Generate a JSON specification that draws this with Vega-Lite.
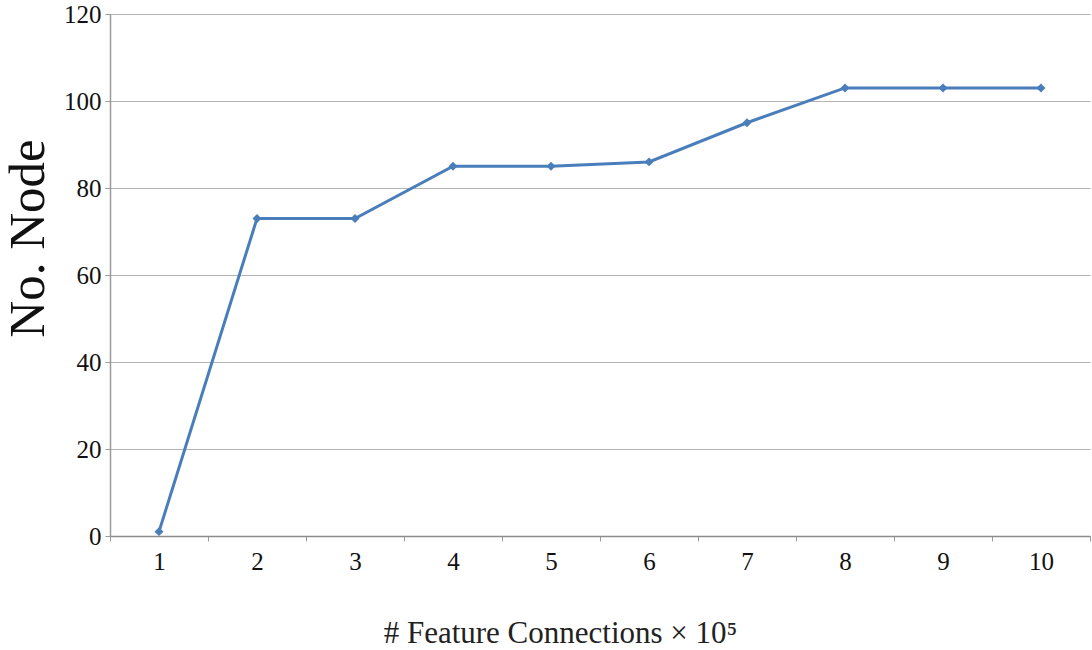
{
  "$schema": "https://vega.github.io/schema/vega-lite/v6.json",
  "width": 980,
  "height": 522,
  "autosize": {"type": "none"},
  "padding": {"left": 110, "top": 14, "right": 2, "bottom": 114},
  "background": "white",
  "config": {
    "view": {"stroke": null},
    "font": "Liberation Serif"
  },
  "data": {
    "values": [
      {"x": "1", "y": 1},
      {"x": "2", "y": 73},
      {"x": "3", "y": 73},
      {"x": "4", "y": 85},
      {"x": "5", "y": 85},
      {"x": "6", "y": 86},
      {"x": "7", "y": 95},
      {"x": "8", "y": 103},
      {"x": "9", "y": 103},
      {"x": "10", "y": 103}
    ]
  },
  "encoding": {
    "x": {
      "field": "x",
      "type": "ordinal",
      "sort": null,
      "scale": {"paddingInner": 0, "paddingOuter": 0},
      "axis": {
        "title": "# Feature Connections × 10⁵",
        "titleFont": "Liberation Serif",
        "titleFontSize": 31,
        "titleFontWeight": "normal",
        "titleColor": "#222222",
        "titleX": 450,
        "titleY": 97,
        "titleAlign": "center",
        "titleBaseline": "middle",
        "labelAngle": 0,
        "labelFont": "Liberation Serif",
        "labelFontSize": 25,
        "labelColor": "#111111",
        "labelPadding": 8,
        "tickBand": "extent",
        "tickSize": 5,
        "tickColor": "#9a9a9a",
        "domainColor": "#8c8c8c",
        "domainWidth": 1.5,
        "grid": false
      }
    },
    "y": {
      "field": "y",
      "type": "quantitative",
      "scale": {"domain": [0, 120], "nice": false},
      "axis": {
        "title": "No. Node",
        "titleFont": "Liberation Serif",
        "titleFontSize": 51,
        "titleFontWeight": "normal",
        "titleColor": "#111111",
        "titleX": -82,
        "titleY": 224,
        "titleAngle": -90,
        "titleAlign": "center",
        "titleBaseline": "middle",
        "values": [0, 20, 40, 60, 80, 100, 120],
        "labelFont": "Liberation Serif",
        "labelFontSize": 25,
        "labelColor": "#111111",
        "labelPadding": 4,
        "tickSize": 5,
        "tickColor": "#9a9a9a",
        "domainColor": "#9a9a9a",
        "domainWidth": 1.5,
        "grid": true,
        "gridColor": "#b3b3b3",
        "gridWidth": 1.2
      }
    }
  },
  "layer": [
    {
      "mark": {"type": "line", "color": "#4a7ebb", "strokeWidth": 3}
    },
    {
      "mark": {"type": "point", "shape": "diamond", "filled": true, "color": "#4a7ebb", "size": 80, "opacity": 1}
    }
  ]
}
